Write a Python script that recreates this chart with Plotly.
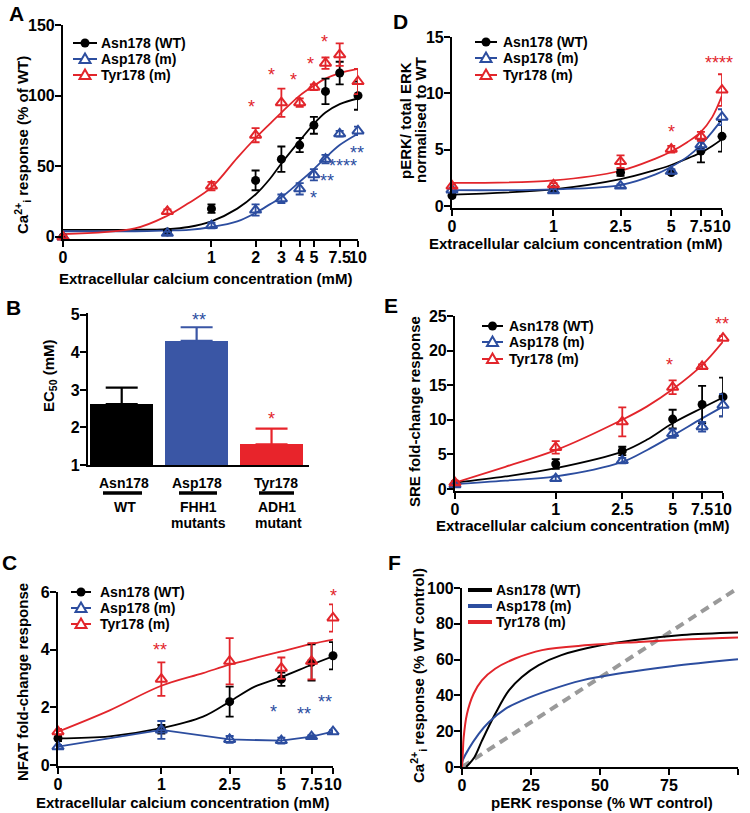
import math
import plotly.graph_objects as go

W, H = 750, 813
FONT = "Arial, Liberation Sans, sans-serif"
BLACK = "#000000"
BLUE = "#2c4d9f"
RED = "#e2252b"
GREY = "#9a9a9a"

NAMES = ["Asn178 (WT)", "Asp178 (m)", "Tyr178 (m)"]
COLORS = [BLACK, BLUE, RED]
SYMBOLS = ["circle", "triangle-up-open", "triangle-up-open"]

# ---- A: Ca2+i response -------------------------------------------------
CONC_A = [0, 0.5, 1, 2, 3, 4, 5, 6, 7.5, 10]
A_WT = [0, 3.5, 20, 40, 55, 65, 79, 103, 116, 100]
A_WT_ERR = [1, 1.5, 3, 7, 9, 5, 6, 9, 8, 10]
A_ASP = [0, 2.5, 8, 19, 27, 34, 44, 55, 73, 75]
A_ASP_ERR = [1, 1, 2, 4, 3, 4, 4, 3, 2, 3]
A_TYR = [0, 18, 36, 72, 95, 95, 106, 123, 129, 110]
A_TYR_ERR = [1, 1.5, 3, 5, 10, 3, 2, 4, 8, 9]

A_FIT_X = [0, 0.3, 0.5, 0.7, 1, 1.5, 2, 2.5, 3, 4, 5, 6, 7.5, 10]
A_FIT_WT = [5, 5, 5.5, 7, 11, 20, 30, 41, 52, 68, 80, 88, 94, 98]
A_FIT_ASP = [4, 4, 4.5, 5, 7, 11, 17, 23, 28, 39, 48, 56, 65, 73]
A_FIT_TYR = [2, 6, 15, 24, 35, 56, 70, 80, 88, 100, 107, 112, 116, 119]

# ---- B: EC50 bars -------------------------------------------------------
B_GROUPS = ["Asn178", "Asp178", "Tyr178"]
B_SUB1 = ["WT", "FHH1", "ADH1"]
B_SUB2 = ["", "mutants", "mutant"]
B_EC50 = [2.62, 4.31, 1.55]
B_ERR = [0.44, 0.36, 0.42]
B_BAR_COLORS = ["#000000", "#3a56a5", "#e8242b"]

# ---- C: NFAT ------------------------------------------------------------
CONC = [0, 1, 2.5, 5, 7.5, 10]
C_WT = [0.93, 1.24, 2.2, 2.98, 3.56, 3.79]
C_WT_ERR = [0.1, 0.15, 0.52, 0.23, 0.63, 0.47]
C_ASP = [0.64, 1.22, 0.89, 0.85, 0.99, 1.16]
C_ASP_ERR = [0.06, 0.31, 0.12, 0.1, 0.05, 0.05]
C_TYR = [1.16, 2.98, 3.6, 3.36, 3.6, 5.1]
C_TYR_ERR = [0.1, 0.58, 0.8, 0.37, 0.63, 0.47]

C_FIT_X = [0, 0.5, 1, 1.75, 2.5, 3.5, 5, 7.5, 10]
C_FIT_WT = [0.93, 1.0, 1.28, 1.68, 2.2, 2.72, 3.05, 3.48, 3.77]
C_FIT_TYR = [1.16, 1.9, 2.75, 3.19, 3.48, 3.71, 3.94, 4.2, 4.35]

# ---- D: pERK ------------------------------------------------------------
D_WT = [0.95, 1.5, 3.0, 3.0, 4.9, 6.2]
D_WT_ERR = [0.15, 0.15, 0.3, 0.15, 1.0, 1.35]
D_ASP = [1.45, 1.37, 1.8, 3.1, 5.45, 7.9]
D_ASP_ERR = [0.15, 0.15, 0.15, 0.2, 0.4, 0.7]
D_TYR = [1.8, 1.9, 3.96, 5.06, 6.2, 10.3]
D_TYR_ERR = [0.15, 0.15, 0.55, 0.3, 0.4, 1.4]

D_FIT_X = [0, 1, 2.5, 4, 5, 6.25, 7.5, 8.75, 10]
D_FIT_WT = [1.04, 1.5, 2.4, 3.2, 3.66, 4.25, 4.76, 5.35, 5.95]
D_FIT_ASP = [1.43, 1.5, 1.88, 2.8, 3.5, 4.4, 5.45, 6.6, 7.7]
D_FIT_TYR = [2.08, 2.3, 3.15, 4.2, 4.85, 5.7, 6.6, 7.9, 9.8]

# ---- E: SRE -------------------------------------------------------------
E_WT = [0.8, 3.6, 5.5, 10.1, 12.2, 13.3]
E_WT_ERR = [0.3, 0.7, 0.6, 1.35, 2.7, 2.8]
E_ASP = [0.6, 1.5, 4.1, 8.0, 9.0, 12.1]
E_ASP_ERR = [0.2, 0.3, 0.4, 0.6, 0.7, 1.6]
E_TYR = [0.9, 6.0, 9.7, 14.7, 17.7, 21.8]
E_TYR_ERR = [0.3, 0.9, 2.1, 1.0, 0.3, 0.3]

E_FIT_X = [0, 0.5, 1, 2.5, 3.5, 5, 7.5, 10]
E_FIT_WT = [0.9, 1.8, 3.0, 5.4, 7.1, 9.5, 11.7, 13.2]
E_FIT_ASP = [0.7, 1.2, 1.8, 3.9, 5.6, 7.7, 10.2, 11.9]
E_FIT_TYR = [0.9, 3.2, 5.6, 10.0, 11.9, 14.4, 17.9, 21.3]

# ---- F: Ca2+i vs pERK ---------------------------------------------------
F_WT_X = [1.5, 4.5, 7.2, 12, 17, 21.7, 27.8, 36, 50.7, 62.8, 79.7, 100]
F_WT_Y = [0, 5.5, 14.6, 29.6, 42.8, 50.3, 56.9, 62.5, 68.1, 71, 73.8, 75.2]
F_ASP_X = [0, 0.2, 2.4, 6, 9.7, 15.7, 21.7, 31.4, 43.5, 58, 76, 100]
F_ASP_Y = [0, 3.4, 10, 18.4, 25, 32.5, 37.1, 42.8, 48.4, 52.5, 56.3, 60.2]
F_TYR_X = [0, 0.3, 0.6, 1.8, 4.2, 7.2, 12, 19.3, 29, 45.9, 64, 82, 100]
F_TYR_Y = [0, 8, 16.5, 29.6, 40.9, 48.4, 54.9, 60.6, 65.3, 68.1, 69.9, 71.4, 72.4]
F_UNITY = [0, 100]

ZERO_A = 0.097   # where "0 mM" sits on the log axis of panel A
ZERO = 0.25      # same for panels C, D, E
TICKS_A = [0, 1, 2, 3, 4, 5, 7.5, 10]
TICKS_CDE = [0, 1, 2.5, 5, 7.5, 10]


def px(x):
    return x / W


def py(y):
    return 1 - y / H


def xpos(vals, zero):
    return [zero if v == 0 else v for v in vals]


def lbl(v):
    return str(v) if v != int(v) else str(int(v))


fig = go.Figure()


def add_curve(xa, ya, x, y, color, width=1.8, shape="spline"):
    fig.add_trace(go.Scatter(x=x, y=y, mode="lines", xaxis=xa, yaxis=ya,
                             line=dict(color=color, width=width, shape=shape),
                             showlegend=False, hoverinfo="skip"))


def add_points(xa, ya, x, y, err, k, mode="markers"):
    c = COLORS[k]
    fig.add_trace(go.Scatter(
        x=x, y=y, mode=mode, xaxis=xa, yaxis=ya, showlegend=False, cliponaxis=False,
        name=NAMES[k], line=dict(color=c, width=1.8),
        marker=dict(symbol=SYMBOLS[k], size=9 if k == 0 else 10, color=c,
                    line=dict(color=c, width=2 if k else 0)),
        error_y=dict(type="data", array=err, color=c, thickness=1.8, width=4)))


# A
for k, fit in enumerate([A_FIT_WT, A_FIT_ASP, A_FIT_TYR]):
    add_curve("x", "y", xpos(A_FIT_X, ZERO_A), fit, COLORS[k])
for k, (v, e) in enumerate([(A_WT, A_WT_ERR), (A_ASP, A_ASP_ERR), (A_TYR, A_TYR_ERR)]):
    add_points("x", "y", xpos(CONC_A, ZERO_A), v, e, k)

# B
fig.add_trace(go.Bar(x=[0, 1, 2], y=B_EC50, xaxis="x2", yaxis="y2", width=0.84,
                     marker=dict(color=B_BAR_COLORS, line=dict(width=0)), showlegend=False))
for i in range(3):
    fig.add_trace(go.Scatter(x=[i], y=[B_EC50[i]], mode="markers", xaxis="x2", yaxis="y2",
                             marker=dict(size=1, color="rgba(0,0,0,0)"), showlegend=False,
                             hoverinfo="skip",
                             error_y=dict(type="data", symmetric=False, array=[B_ERR[i]],
                                          arrayminus=[0], color=B_BAR_COLORS[i],
                                          thickness=2.2, width=16)))

# C
add_curve("x3", "y3", xpos(C_FIT_X, ZERO), C_FIT_WT, BLACK)
add_curve("x3", "y3", xpos(C_FIT_X, ZERO), C_FIT_TYR, RED)
add_points("x3", "y3", xpos(CONC, ZERO), C_WT, C_WT_ERR, 0)
add_points("x3", "y3", xpos(CONC, ZERO), C_ASP, C_ASP_ERR, 1, mode="lines+markers")
add_points("x3", "y3", xpos(CONC, ZERO), C_TYR, C_TYR_ERR, 2)

# D
for k, fit in enumerate([D_FIT_WT, D_FIT_ASP, D_FIT_TYR]):
    add_curve("x4", "y4", xpos(D_FIT_X, ZERO), fit, COLORS[k])
for k, (v, e) in enumerate([(D_WT, D_WT_ERR), (D_ASP, D_ASP_ERR), (D_TYR, D_TYR_ERR)]):
    add_points("x4", "y4", xpos(CONC, ZERO), v, e, k)

# E
for k, fit in enumerate([E_FIT_WT, E_FIT_ASP, E_FIT_TYR]):
    add_curve("x5", "y5", xpos(E_FIT_X, ZERO), fit, COLORS[k])
for k, (v, e) in enumerate([(E_WT, E_WT_ERR), (E_ASP, E_ASP_ERR), (E_TYR, E_TYR_ERR)]):
    add_points("x5", "y5", xpos(CONC, ZERO), v, e, k)

# F
fig.add_trace(go.Scatter(x=F_UNITY, y=F_UNITY, mode="lines", xaxis="x6", yaxis="y6",
                         line=dict(color=GREY, width=4, dash="9px,6px"), showlegend=False))
add_curve("x6", "y6", F_WT_X, F_WT_Y, BLACK, 2)
add_curve("x6", "y6", F_ASP_X, F_ASP_Y, BLUE, 2)
add_curve("x6", "y6", F_TYR_X, F_TYR_Y, RED, 2)

# ---- axes -----------------------------------------------------------------
TICKFONT = dict(family=FONT, size=16, color="black", weight="bold")
AX = dict(showline=True, linecolor="black", linewidth=2.2, ticks="outside", ticklen=6,
          tickwidth=2, tickcolor="black", showgrid=False, zeroline=False, tickangle=0,
          automargin=False, tickfont=TICKFONT, fixedrange=True)
XAX = dict(AX, ticklabelstandoff=-3)
YAX = dict(AX, ticklabelstandoff=-3)


def xdom(a, b):
    return [px(a), px(b)]


def ydom(top, bottom):
    return [py(bottom), py(top)]


fig.update_layout(
    xaxis=dict(XAX, type="log", domain=xdom(63, 358), range=[math.log10(ZERO_A), 1],
               tickvals=xpos(TICKS_A, ZERO_A), ticktext=[lbl(t) for t in TICKS_A], anchor="y"),
    yaxis=dict(YAX, domain=ydom(25, 239), range=[-1.5, 150], tickvals=[0, 50, 100, 150], anchor="x"),
    xaxis2=dict(XAX, domain=xdom(88, 309), range=[-0.45, 2.5], ticks="", showticklabels=False,
                anchor="y2"),
    yaxis2=dict(YAX, domain=ydom(313, 465), range=[1, 5.05], tickvals=[1, 2, 3, 4, 5], anchor="x2"),
    xaxis3=dict(XAX, type="log", domain=xdom(58, 333), range=[math.log10(ZERO), 1],
                tickvals=xpos(TICKS_CDE, ZERO), ticktext=[lbl(t) for t in TICKS_CDE], anchor="y3"),
    yaxis3=dict(YAX, domain=ydom(592, 766), range=[-0.03, 6], tickvals=[0, 2, 4, 6], anchor="x3"),
    xaxis4=dict(XAX, type="log", domain=xdom(452, 722), range=[math.log10(ZERO), 1],
                tickvals=xpos(TICKS_CDE, ZERO), ticktext=[lbl(t) for t in TICKS_CDE], anchor="y4"),
    yaxis4=dict(YAX, domain=ydom(37, 208), range=[-0.15, 15], tickvals=[0, 5, 10, 15], anchor="x4"),
    xaxis5=dict(XAX, type="log", domain=xdom(455, 723), range=[math.log10(ZERO), 1],
                tickvals=xpos(TICKS_CDE, ZERO), ticktext=[lbl(t) for t in TICKS_CDE], anchor="y5"),
    yaxis5=dict(YAX, domain=ydom(316, 491), range=[-0.3, 25], tickvals=[0, 5, 10, 15, 20, 25],
                anchor="x5"),
    xaxis6=dict(XAX, domain=xdom(462, 738), range=[0, 100], tickvals=[0, 25, 50, 75, 100],
                anchor="y6"),
    yaxis6=dict(YAX, domain=ydom(588, 767), range=[0, 100], tickvals=[0, 20, 40, 60, 80, 100],
                anchor="x6"),
)

# ---- text -------------------------------------------------------------------
ann = []
shapes = []


def text(x, y, t, size=15, angle=0, color="black", bold=True, xanchor="center"):
    ann.append(dict(x=px(x), y=py(y), xref="paper", yref="paper", text=t, showarrow=False,
                    textangle=angle, xanchor=xanchor, yanchor="middle",
                    font=dict(family=FONT, size=size, color=color,
                              weight="bold" if bold else "normal")))


def hline(a, b, y, color, width):
    shapes.append(dict(type="line", xref="paper", yref="paper", x0=px(a), x1=px(b),
                       y0=py(y), y1=py(y), line=dict(color=color, width=width)))


# hand-drawn legends, one per panel (pixel layout of the original figure)
def legend(x0, x1, xt, rows, lines_only=False):
    for k, y in enumerate(rows):
        c = COLORS[k]
        hline(x0, x1, y, c, 4 if lines_only else 2)
        cx = (x0 + x1) / 2
        if not lines_only:
            if k == 0:
                shapes.append(dict(type="circle", xref="paper", yref="paper",
                                   x0=px(cx - 4.5), x1=px(cx + 4.5), y0=py(y + 4.5), y1=py(y - 4.5),
                                   fillcolor=c, line=dict(width=0)))
            else:
                path = "M {},{} L {},{} L {},{} Z".format(
                    px(cx), py(y - 5.5), px(cx - 5.5), py(y + 4), px(cx + 5.5), py(y + 4))
                shapes.append(dict(type="path", xref="paper", yref="paper", path=path,
                                   fillcolor="white", line=dict(color=c, width=2)))
        text(xt, y, NAMES[k], size=14, xanchor="left")


legend(73, 97, 99, [43, 59, 75])
legend(71, 91, 98, [592, 608, 624])
legend(475, 497, 501, [42, 58, 75])
legend(482, 503, 507, [326, 342, 359])
legend(468, 492, 494, [590, 606, 622], lines_only=True)

for letter, (lx, ly) in zip("ABCDEF", [(16, 14), (13, 307), (9, 562), (400, 22), (391, 305), (395, 562)]):
    text(lx, ly, letter, size=21)

XT = "Extracellular calcium concentration (mM)"
text(205, 278, XT)
text(182, 802, XT)
text(575, 244, XT)
text(582, 525, XT)
text(602, 802, "pERK response (% WT control)")

text(22, 145, "Ca<sup>2+</sup><sub>i</sub> response (% of WT)", angle=-90)
text(50, 376, "EC<sub>50</sub> (mM)", angle=-90)
text(22, 682, "NFAT fold-change response", angle=-90)
text(406, 121, "pERK/ total ERK", angle=-90)
text(420, 120, "normalised to WT", angle=-90)
text(414, 412, "SRE fold-change response", angle=-90)
text(418, 676, "Ca<sup>2+</sup><sub>i</sub> response (% WT control)", angle=-90)

# bar category labels
for cx, g, s1, s2 in zip([124, 197, 276], B_GROUPS, B_SUB1, B_SUB2):
    text(cx, 483, g, size=14)
    text(cx + 1, 507, s1, size=14)
    if s2:
        text(cx + 2, 523, s2, size=14)
for a, b in [(103, 142), (179, 217), (259, 294)]:
    hline(a, b, 493, "black", 3.5)

# significance stars (pixel positions of glyph centres)
STARS = [
    (251, 103, "*", RED), (271, 71, "*", RED), (293, 76, "*", RED), (310, 60, "*", RED),
    (324, 38, "*", RED),
    (313, 194, "*", BLUE), (327, 177, "**", BLUE), (343, 162, "****", BLUE), (357, 149, "**", BLUE),
    (199, 316, "**", BLUE), (271, 415, "*", RED),
    (160, 646, "**", RED), (333, 592, "*", RED), (273, 708, "*", BLUE), (304, 710, "**", BLUE),
    (325, 698, "**", BLUE),
    (671, 128, "*", RED), (719, 59, "****", RED),
    (669, 361, "*", RED), (722, 320, "**", RED),
]
for sx, sy, st, sc in STARS:
    text(sx, sy + 4, st, size=18, color=sc, bold=False)

fig.update_layout(
    width=W, height=H, margin=dict(l=0, r=0, t=0, b=0, autoexpand=False),
    paper_bgcolor="white", plot_bgcolor="white", showlegend=False,
    annotations=ann, shapes=shapes, bargap=0,
    font=dict(family=FONT, color="black"),
)

# the page's default 8px body margin would shift the whole figure
fig.write_html("out.html", config={"displayModeBar": False},
               post_script="document.body.style.margin = '0';")
